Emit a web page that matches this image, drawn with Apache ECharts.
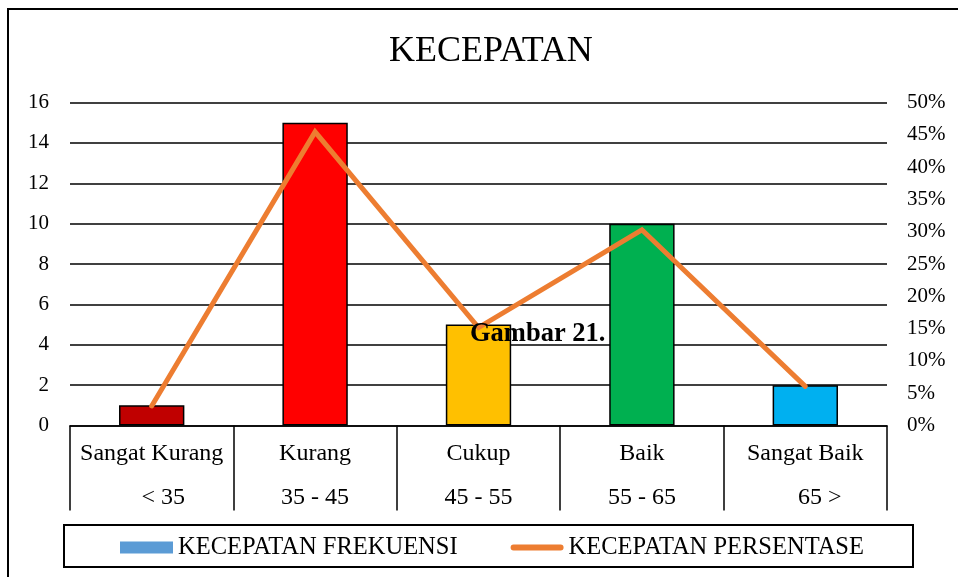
<!DOCTYPE html>
<html>
<head>
<meta charset="utf-8">
<script src="https://cdn.jsdelivr.net/npm/echarts@6/dist/echarts.min.js"></script>
<style>
html,body{margin:0;padding:0;background:#fff;}
#chart{width:958px;height:577px;}
</style>
</head>
<body>
<div id="chart"></div>
<script>
const categories = ['Sangat Kurang', 'Kurang', 'Cukup', 'Baik', 'Sangat Baik'];
const ranges = ['< 35', '35 - 45', '45 - 55', '55 - 65', '65 >'];
const frekuensi = [1, 15, 5, 10, 2];
const persentase = [0.0303, 0.4545, 0.1515, 0.3030, 0.0606];
const barColors = ['#C00000', '#FF0000', '#FFC000', '#00B050', '#00B0F0'];
const leftTicks = [0, 16, 2];
const rightTicks = [0, 0.5, 0.05];
const titleText = 'KECEPATAN';
const seriesNames = ['KECEPATAN FREKUENSI', 'KECEPATAN PERSENTASE'];
const noteText = 'Gambar 21.';

const FONT = "'Liberation Serif', 'Times New Roman', serif";
const chart = echarts.init(document.getElementById('chart'), null, {renderer: 'canvas'});

const catData = categories.map((c, i) => c + '|' + ranges[i]);
const lineIcon = 'path://M3,0 L51,0 A3,3 0 0 1 51,6 L3,6 A3,3 0 0 1 3,0 Z';

chart.setOption({
  animation: false,
  backgroundColor: '#fff',
  textStyle: {fontFamily: FONT, color: '#000'},
  title: {
    text: titleText,
    left: 384,
    top: 29,
    textStyle: {fontFamily: FONT, fontSize: 36, fontWeight: 'normal', color: '#000'}
  },
  grid: {left: 70, right: 71, top: 102.5, bottom: 151.5, containLabel: false},
  legend: {
    left: 120,
    top: 535,
    padding: 0,
    itemWidth: 53,
    itemHeight: 12,
    itemGap: 53,
    symbolKeepAspect: true,
    textStyle: {fontFamily: FONT, fontSize: 24.5, color: '#000'},
    data: [
      {name: seriesNames[0], icon: 'rect'},
      {name: seriesNames[1], icon: lineIcon}
    ]
  },
  xAxis: {
    type: 'category',
    data: catData,
    boundaryGap: true,
    axisLine: {show: true, lineStyle: {color: '#000', width: 1.5}},
    axisTick: {show: true, interval: 0, length: 85, lineStyle: {color: '#000', width: 1.5}},
    axisLabel: {
      interval: 0,
      margin: 6,
      formatter: function (v, i) {
        const p = v.split('|');
        const r = i === 0 ? 'b0' : (i === 4 ? 'b4' : 'b');
        return '{a|' + p[0] + '}\n{' + r + '|' + p[1] + '}';
      },
      rich: {
        a: {fontFamily: FONT, fontSize: 24, lineHeight: 44, color: '#000'},
        b: {fontFamily: FONT, fontSize: 24, lineHeight: 44, color: '#000'},
        b0: {fontFamily: FONT, fontSize: 24, lineHeight: 44, color: '#000', padding: [0, 0, 0, 23]},
        b4: {fontFamily: FONT, fontSize: 24, lineHeight: 44, color: '#000', padding: [0, 0, 0, 29]}
      }
    }
  },
  yAxis: [
    {
      type: 'value',
      min: leftTicks[0], max: leftTicks[1], interval: leftTicks[2],
      axisLine: {show: false}, axisTick: {show: false},
      axisLabel: {margin: 21, fontFamily: FONT, fontSize: 21, color: '#000'},
      splitLine: {show: true, lineStyle: {color: '#000', width: 1.5}}
    },
    {
      type: 'value',
      min: rightTicks[0], max: rightTicks[1], interval: rightTicks[2],
      axisLine: {show: false}, axisTick: {show: false},
      splitLine: {show: false},
      axisLabel: {
        margin: 20, fontFamily: FONT, fontSize: 21, color: '#000',
        formatter: v => Math.round(v * 100) + '%'
      }
    }
  ],
  series: [
    {
      name: seriesNames[0],
      type: 'bar',
      yAxisIndex: 0,
      barWidth: '40%',
      itemStyle: {color: '#5B9BD5'},
      data: frekuensi.map((v, i) => ({
        value: v,
        itemStyle: {color: barColors[i], borderColor: '#000', borderWidth: 1.5}
      })),
      z: 2
    },
    {
      name: seriesNames[1],
      type: 'line',
      yAxisIndex: 1,
      data: persentase,
      symbol: 'none',
      itemStyle: {color: '#ED7D31'},
      lineStyle: {color: '#ED7D31', width: 5, cap: 'round', join: 'miter'},
      z: 3
    }
  ],
  graphic: [
    {
      type: 'rect', z: 0, silent: true,
      shape: {x: 8, y: 9, width: 1200, height: 1200},
      style: {fill: 'none', stroke: '#000', lineWidth: 2}
    },
    {
      type: 'rect', z: 0, silent: true,
      shape: {x: 64, y: 525, width: 849, height: 42},
      style: {fill: 'none', stroke: '#000', lineWidth: 2}
    },
    {
      type: 'text', z: 10, silent: true,
      left: 470, top: 321,
      style: {text: noteText, font: "bold 26.5px 'Liberation Serif', 'Times New Roman', serif", fill: '#000'}
    }
  ]
});
</script>
</body>
</html>
